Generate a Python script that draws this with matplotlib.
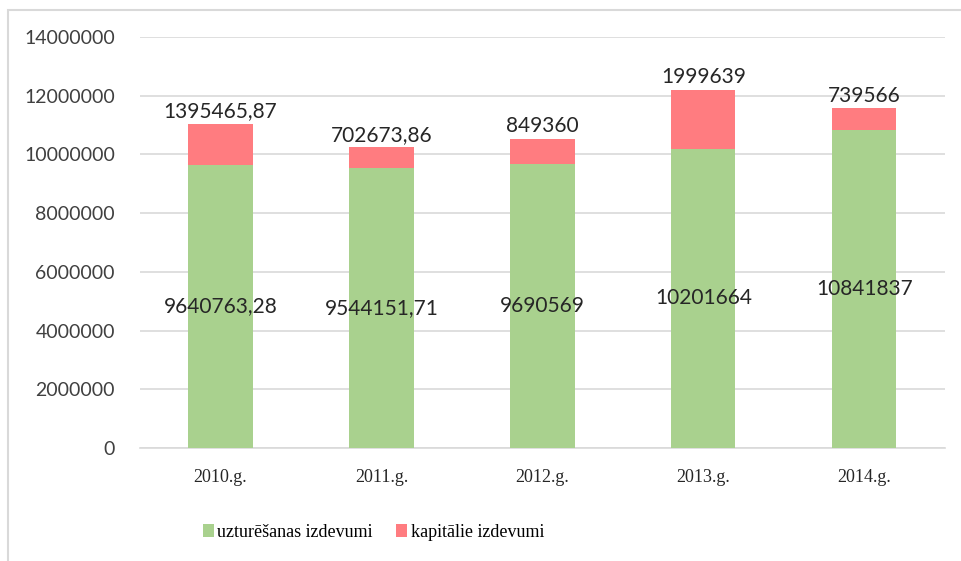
import matplotlib.pyplot as plt
from matplotlib.patches import Rectangle

# dati
gadi = ['2010.g.', '2011.g.', '2012.g.', '2013.g.', '2014.g.']
uzturesanas = [9640763.28, 9544151.71, 9690569, 10201664, 10841837]
kapitalie = [1395465.87, 702673.86, 849360, 1999639, 739566]
uzt_teksti = ['9640763,28', '9544151,71', '9690569', '10201664', '10841837']
kap_teksti = ['1395465,87', '702673,86', '849360', '1999639', '739566']

ZALS = '#A9D18E'
SARKANS = '#FF7C80'

fig = plt.figure(figsize=(9.62, 5.61), dpi=100)
ax = fig.add_axes([0.1455, 0.2014, 0.8365, 0.7326])

# rāmis ap diagrammu
fig.patches.append(Rectangle((8 / 962, -0.01), 1.0, 1 - 10 / 561 + 0.01,
                             transform=fig.transFigure, fill=False,
                             edgecolor='#D9D9D9', linewidth=1.5))

x = range(len(gadi))
ax.bar(x, uzturesanas, width=0.4, color=ZALS, label='uzturēšanas izdevumi', zorder=3)
ax.bar(x, kapitalie, width=0.4, bottom=uzturesanas, color=SARKANS,
       label='kapitālie izdevumi', zorder=3)

for i in x:
    ax.text(i, uzturesanas[i] / 2, uzt_teksti[i], ha='center', va='center',
            fontsize=15, family='Lato', color='#262626', zorder=4)
    ax.annotate(kap_teksti[i], (i, uzturesanas[i] + kapitalie[i]),
                xytext=(0, 9), textcoords='offset points', ha='center', va='center',
                fontsize=15, family='Lato', color='#262626', zorder=4)

ax.set_ylim(0, 14000000)
ax.set_xlim(-0.5, 4.5)
ax.set_yticks(range(0, 14000001, 2000000))
ax.set_yticklabels([str(v) for v in range(0, 14000001, 2000000)],
                   fontsize=14, family='Lato', color='#404040')
ax.set_xticks(list(x))
ax.set_xticklabels(gadi, fontsize=13, family='Liberation Serif', color='#262626')
ax.tick_params(axis='both', length=0)
ax.tick_params(axis='y', pad=18)
ax.tick_params(axis='x', pad=15)

ax.grid(axis='y', color='#D9D9D9', linewidth=1.2, zorder=0)
for s in ['top', 'right', 'left']:
    ax.spines[s].set_visible(False)
ax.spines['bottom'].set_color('#D9D9D9')
ax.spines['bottom'].set_linewidth(1.2)

ax.legend(loc='upper center', bbox_to_anchor=(0.29, -0.145), ncol=2, frameon=False,
          prop={'family': 'Liberation Serif', 'size': 13}, handlelength=0.6,
          handleheight=0.7, handletextpad=0.2, columnspacing=1.3)

fig.savefig('out.png', dpi=100)
